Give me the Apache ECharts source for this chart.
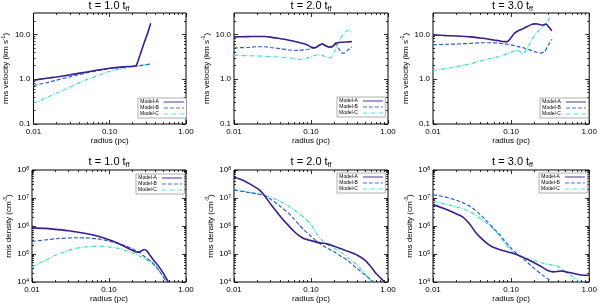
<!DOCTYPE html>
<html><head><meta charset="utf-8">
<script src="https://cdn.jsdelivr.net/npm/echarts@6/dist/echarts.min.js"></script>
<style>html,body{margin:0;padding:0;background:#fff}#c{width:600px;height:304px}</style>
</head><body><div id="c"></div>
<script>
// ---------- data ----------
const models = ['Model-A', 'Model-B', 'Model-C'];
const titles = ['1.0', '2.0', '3.0', '1.0', '2.0', '3.0'];

const xTicks = [0.01, 0.1, 1];
const xTickLabels = ['0.01', '0.10', '1.00'];
const xMinor = [0.02,0.03,0.04,0.05,0.06,0.07,0.08,0.09,0.2,0.3,0.4,0.5,0.6,0.7,0.8,0.9];
const velTicks = [0.1, 1, 10];
const velTickLabels = ['0.1', '1.0', '10.0'];
const velMinor = [0.2,0.3,0.4,0.5,0.6,0.7,0.8,0.9,2,3,4,5,6,7,8,9,20];
const denTicks = [1e4, 1e5, 1e6, 1e7, 1e8];
const denTickLabels = ['10{s|4}', '10{s|5}', '10{s|6}', '10{s|7}', '10{s|8}'];
const denMinor = [];
[1e4,1e5,1e6,1e7].forEach(d => { for (let k = 2; k <= 9; k++) denMinor.push(k * d); });

// Panel 1: velocity, t = 1.0
const v1_rA = [0.01,0.015,0.02,0.03,0.05,0.07,0.1,0.15,0.2,0.222,0.25,0.28,0.31,0.345];
const v1_A  = [0.95,1.05,1.12,1.25,1.45,1.6,1.75,1.88,1.95,2.0,3.5,6.2,10,17.7];
const v1_rB = [0.01,0.015,0.02,0.03,0.04,0.05,0.07,0.1,0.15,0.2,0.25,0.3,0.345];
const v1_B  = [0.72,0.84,0.95,1.13,1.27,1.38,1.55,1.72,1.86,1.93,2.0,2.1,2.2];
const v1_rC = [0.01,0.015,0.02,0.03,0.04,0.05,0.07,0.1,0.15,0.2,0.25,0.3,0.345];
const v1_C  = [0.29,0.39,0.49,0.66,0.84,0.98,1.2,1.5,1.75,1.9,2.0,2.1,2.2];

// Panel 2: velocity, t = 2.0
const v2_rA = [0.01,0.015,0.02,0.025,0.03,0.04,0.05,0.07,0.09,0.1,0.11,0.12,0.13,0.14,0.15,0.17,0.19,0.21,0.25,0.3,0.34];
const v2_A  = [8.8,8.9,9.0,9.0,8.7,8.0,7.5,6.6,5.8,5.2,5.0,5.3,5.8,6.2,5.8,5.2,5.3,6.4,6.7,6.8,6.9];
const v2_rB = [0.01,0.015,0.02,0.025,0.03,0.04,0.05,0.07,0.09,0.1,0.11,0.12,0.13,0.14,0.15,0.17,0.19,0.21,0.23,0.25,0.27,0.3,0.34];
const v2_B  = [5.0,5.1,5.3,5.3,5.1,4.8,4.5,4.4,4.6,4.8,5.0,5.3,5.8,6.0,5.7,5.3,5.5,6.0,4.8,3.9,3.8,4.5,5.2];
const v2_rC = [0.01,0.015,0.02,0.03,0.04,0.05,0.06,0.073,0.085,0.1,0.12,0.14,0.16,0.18,0.2,0.22,0.24,0.27,0.3,0.32,0.34];
const v2_C  = [3.4,3.35,3.3,3.2,3.1,3.0,2.9,2.75,2.9,3.2,3.5,3.4,3.1,3.0,4.0,6.0,8.0,10.5,12.5,12.0,10.5];

// Panel 3: velocity, t = 3.0
const v3_rA = [0.01,0.015,0.02,0.03,0.04,0.05,0.06,0.07,0.08,0.09,0.1,0.11,0.125,0.15,0.18,0.2,0.22,0.25,0.28,0.3,0.333];
const v3_A  = [9.7,9.4,9.2,8.8,8.3,7.9,7.5,7.2,6.9,6.9,8.5,10.5,12.2,14,16.5,17.2,17,16,17,15,12];
const v3_rB = [0.01,0.015,0.02,0.03,0.04,0.05,0.07,0.09,0.11,0.13,0.15,0.18,0.21,0.24,0.27,0.3,0.333];
const v3_B  = [5.9,6.0,6.1,6.3,6.5,6.5,6.4,6.0,5.6,5.2,4.9,4.4,4.0,3.8,4.2,5.8,7.8];
const v3_rC = [0.01,0.015,0.02,0.03,0.05,0.07,0.09,0.11,0.125,0.14,0.16,0.18,0.2,0.23,0.26,0.29,0.325];
const v3_C  = [1.55,1.75,1.9,2.2,2.8,3.2,3.7,4.3,4.4,3.6,4.8,7.0,9.5,12.5,15,19,26];

// Panel 4: density, t = 1.0
const d1_rA = [0.01,0.015,0.02,0.03,0.05,0.07,0.1,0.13,0.17,0.2,0.23,0.26,0.285,0.31,0.34,0.38,0.43,0.5,0.59];
const d1_A  = [8.6e5,8.2e5,7.6e5,6.8e5,5.4e5,4.4e5,3.2e5,2.4e5,1.7e5,1.35e5,1.17e5,1.25e5,1.45e5,1.3e5,9e4,6e4,4e4,2.2e4,1e4];
const d1_rB = [0.01,0.015,0.02,0.03,0.04,0.05,0.07,0.1,0.13,0.17,0.2,0.25,0.3,0.35,0.4,0.45,0.5,0.56];
const d1_B  = [2.8e5,3.2e5,3.5e5,3.75e5,3.8e5,3.75e5,3.5e5,2.9e5,2.4e5,1.9e5,1.55e5,1.1e5,7.5e4,5.5e4,3.8e4,2.5e4,1.6e4,1e4];
const d1_rC = [0.01,0.012,0.015,0.02,0.03,0.04,0.05,0.07,0.1,0.13,0.17,0.2,0.25,0.3,0.35,0.4,0.45,0.5,0.56];
const d1_C  = [3.4e4,4.5e4,6e4,9e4,1.35e5,1.65e5,1.8e5,1.9e5,1.8e5,1.6e5,1.3e5,1.1e5,8.5e4,6.5e4,5e4,3.6e4,2.5e4,1.6e4,1e4];

// Panel 5: density, t = 2.0
const d2_rA = [0.01,0.013,0.016,0.02,0.022,0.025,0.03,0.035,0.04,0.05,0.06,0.07,0.08,0.1,0.13,0.16,0.2,0.25,0.3,0.4,0.5,0.6,0.7,0.8,0.9];
const d2_A  = [5.6e7,4.3e7,3.2e7,2.2e7,1.8e7,1.2e7,6e6,3.5e6,2.2e6,1.1e6,6.5e5,4.5e5,3.6e5,3e5,2.5e5,2.3e5,1.9e5,1.5e5,1.25e5,9e4,6e4,3.5e4,2e4,1.4e4,1e4];
const d2_rB = [0.01,0.015,0.02,0.025,0.03,0.04,0.05,0.06,0.07,0.08,0.1,0.12,0.15,0.2,0.25,0.3,0.4,0.5,0.65];
const d2_B  = [1.9e7,1.6e7,1.4e7,1.2e7,9e6,5e6,3e6,1.8e6,1.1e6,7.5e5,4.3e5,2.8e5,1.8e5,1.2e5,8e4,5.8e4,3e4,1.8e4,1e4];
const d2_rC = [0.01,0.015,0.02,0.025,0.03,0.04,0.05,0.06,0.07,0.085,0.1,0.12,0.15,0.2,0.25,0.3,0.4,0.5,0.62];
const d2_C  = [2e7,1.65e7,1.45e7,1.25e7,1.05e7,7.5e6,5.3e6,3.8e6,2.8e6,1.8e6,1.15e6,5e5,2.5e5,1.6e5,1.1e5,7.5e4,4e4,2e4,1e4];

// Panel 6: density, t = 3.0
const d3_rA = [0.01,0.013,0.016,0.02,0.024,0.03,0.035,0.04,0.05,0.06,0.08,0.1,0.13,0.16,0.2,0.25,0.3,0.35,0.4,0.45,0.5,0.6,0.7,0.85,1.0];
const d3_A  = [5.8e6,4.5e6,3.6e6,2.7e6,2.1e6,1.1e6,6e5,4e5,2.3e5,1.7e5,1.3e5,1.1e5,8.5e4,6.5e4,4.8e4,3.4e4,2.5e4,2.3e4,2.4e4,2.5e4,2.3e4,2.1e4,1.9e4,1.75e4,1.75e4];
const d3_rB = [0.01,0.013,0.016,0.02,0.025,0.03,0.04,0.05,0.06,0.07,0.08,0.1,0.12,0.15,0.2,0.25,0.3,0.34];
const d3_B  = [1.3e7,1.15e7,1e7,8.3e6,6.5e6,5e6,2.6e6,1.4e6,8e5,5.3e5,3.3e5,1.6e5,1e5,6e4,3e4,1.8e4,1.25e4,1e4];
const d3_rC = [0.01,0.015,0.02,0.025,0.03,0.04,0.05,0.06,0.07,0.08,0.1,0.12,0.15,0.2,0.25,0.3,0.35,0.4,0.45,0.5,0.6,0.7,0.75];
const d3_C  = [7.6e6,5.8e6,4.8e6,4.0e6,3.2e6,1.9e6,1.2e6,7.5e5,4.6e5,2.8e5,1.3e5,9.5e4,7.5e4,5.8e4,4.8e4,4.2e4,4e4,3.6e4,3e4,2.3e4,1.6e4,1.15e4,1e4];

const panelSeries = [
  [[v1_rA,v1_A],[v1_rB,v1_B],[v1_rC,v1_C]],
  [[v2_rA,v2_A],[v2_rB,v2_B],[v2_rC,v2_C]],
  [[v3_rA,v3_A],[v3_rB,v3_B],[v3_rC,v3_C]],
  [[d1_rA,d1_A],[d1_rB,d1_B],[d1_rC,d1_C]],
  [[d2_rA,d2_A],[d2_rB,d2_B],[d2_rC,d2_C]],
  [[d3_rA,d3_A],[d3_rB,d3_B],[d3_rC,d3_C]]
];

// ---------- layout / style ----------
const FONT = 'Liberation Sans, Arial, Helvetica, sans-serif';
const grids = [
  {left: 32,  top: 13,  width: 154, height: 111},
  {left: 234, top: 13,  width: 154, height: 111},
  {left: 433, top: 13,  width: 159, height: 111},
  {left: 32,  top: 170, width: 154, height: 112},
  {left: 234, top: 170, width: 154, height: 112},
  {left: 433, top: 170, width: 159, height: 112}
];
const legendPos = [[138,98],[337,97],[540,98],[136,174],[337,173],[539,173]];
const colors = ['#3a1e8a', '#2f62c4', '#43dccb'];
const widths = [1.6, 1.2, 1.2];
const dashes = ['solid', [4, 2], [4, 1.5, 1, 1.5]];

function pick(ticks, labels, v) {
  let best = 0, bd = Infinity;
  ticks.forEach((t, i) => { const d = Math.abs(Math.log10(t) - Math.log10(v)); if (d < bd) { bd = d; best = i; } });
  return bd < 0.01 ? labels[best] : '';
}

const tickLine = {color: '#000', width: 0.8};
const xAxis = [], yAxis = [], series = [], title = [], legend = [];

grids.forEach((g, i) => {
  const isVel = i < 3;
  const yMin = isVel ? 0.1 : 1e4, yMax = isVel ? 30 : 1e8;
  const yT = isVel ? velTicks : denTicks, yL = isVel ? velTickLabels : denTickLabels;
  const yM = isVel ? velMinor : denMinor;
  const xc = {type: 'log', logBase: 10, gridIndex: i, min: 0.01, max: 1,
              splitLine: {show: false}, axisLine: {show: false}};
  const yc = {type: 'log', logBase: 10, gridIndex: i, min: yMin, max: yMax,
              splitLine: {show: false}, axisLine: {show: false}};
  xAxis.push(
    Object.assign({}, xc, {position: 'bottom',
      axisTick: {inside: true, length: 4, customValues: xTicks, lineStyle: tickLine},
      axisLabel: {customValues: xTicks, formatter: v => pick(xTicks, xTickLabels, v),
                  fontSize: 8, color: '#000', margin: 4, fontFamily: FONT},
      name: 'radius (pc)', nameLocation: 'middle', nameGap: 13,
      nameTextStyle: {fontSize: 8, color: '#000', fontFamily: FONT}}),
    Object.assign({}, xc, {position: 'bottom',
      axisTick: {inside: true, length: 2, customValues: xMinor, lineStyle: tickLine}, axisLabel: {show: false}}),
    Object.assign({}, xc, {position: 'top',
      axisTick: {inside: true, length: 4, customValues: xTicks, lineStyle: tickLine}, axisLabel: {show: false}}),
    Object.assign({}, xc, {position: 'top',
      axisTick: {inside: true, length: 2, customValues: xMinor, lineStyle: tickLine}, axisLabel: {show: false}})
  );
  yAxis.push(
    Object.assign({}, yc, {position: 'left',
      axisTick: {inside: true, length: 4, customValues: yT, lineStyle: tickLine},
      axisLabel: {customValues: yT, formatter: v => pick(yT, yL, v),
                  fontSize: 8, color: '#000', margin: 3, fontFamily: FONT,
                  rich: {s: {fontSize: 5, lineHeight: 5, verticalAlign: 'top', fontFamily: FONT, color: '#000'}}},
      name: isVel ? 'rms velocity (km s{s|-1})' : 'rms density (cm{s|-3})',
      nameLocation: 'middle', nameGap: 18,
      nameTextStyle: {fontSize: 8, color: '#000', fontFamily: FONT, lineHeight: 10,
                      rich: {s: {fontSize: 5, lineHeight: 5, verticalAlign: 'top', fontFamily: FONT, color: '#000'}}}}),
    Object.assign({}, yc, {position: 'left',
      axisTick: {inside: true, length: 2, customValues: yM, lineStyle: tickLine}, axisLabel: {show: false}}),
    Object.assign({}, yc, {position: 'right',
      axisTick: {inside: true, length: 4, customValues: yT, lineStyle: tickLine}, axisLabel: {show: false}}),
    Object.assign({}, yc, {position: 'right',
      axisTick: {inside: true, length: 2, customValues: yM, lineStyle: tickLine}, axisLabel: {show: false}})
  );
  for (let m = 2; m >= 0; m--) {
    const [rs, vs] = panelSeries[i][m];
    series.push({
      type: 'line', name: models[m], xAxisIndex: i * 4, yAxisIndex: i * 4,
      data: rs.map((r, k) => [r, vs[k]]), symbol: 'none', smooth: 0.2,
      lineStyle: {color: colors[m], width: widths[m], type: dashes[m]},
      itemStyle: {color: colors[m]}, emphasis: {disabled: true}, animation: false
    });
  }
  title.push({
    text: 't = ' + titles[i] + ' t{b|ff}',
    left: g.left + g.width / 2, top: i < 3 ? -1 : 155, textAlign: 'center', padding: 0,
    textStyle: {fontSize: 11, fontWeight: 'normal', color: '#000', fontFamily: FONT, lineHeight: 14,
      rich: {b: {fontSize: 7, lineHeight: 7, verticalAlign: 'bottom', fontFamily: FONT, color: '#000'}}}
  });
  legend.push({
    orient: 'vertical', left: legendPos[i][0], top: legendPos[i][1], align: 'right',
    itemWidth: 20, itemHeight: 5, itemGap: 0, padding: [1, 2],
    borderColor: '#999', borderWidth: 0.8, backgroundColor: '#fff',
    selectedMode: false, data: models,
    lineStyle: {width: 0.9},
    itemStyle: {opacity: 0, borderWidth: 0},
    textStyle: {fontSize: 5, lineHeight: 6, color: '#000', fontFamily: FONT}
  });
});

const chart = echarts.init(document.getElementById('c'), null, {renderer: 'canvas', width: 600, height: 304});
chart.setOption({
  animation: false,
  backgroundColor: '#fff',
  grid: grids.map(g => Object.assign({show: true, borderColor: '#000', borderWidth: 1, containLabel: false}, g)),
  xAxis, yAxis, series, title, legend
});
</script></body></html>
